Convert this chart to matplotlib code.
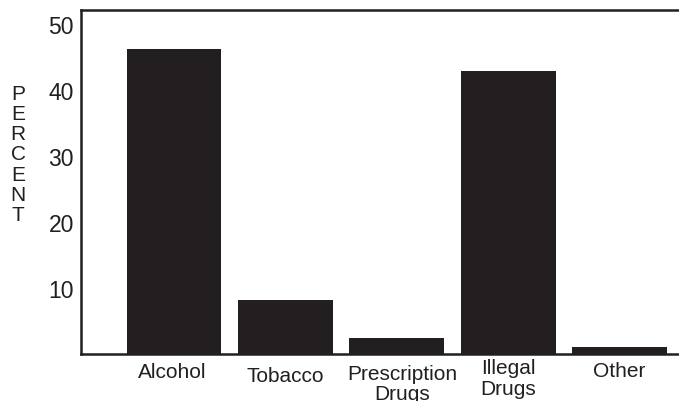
import matplotlib
matplotlib.use('Agg')
import matplotlib.pyplot as plt

# 字体：接近 Helvetica / Arial
plt.rcParams['font.family'] = ['Liberation Sans', 'DejaVu Sans']

categories = ['Alcohol', 'Tobacco', 'Prescription\nDrugs', 'Illegal\nDrugs', 'Other']
percent = [46.2, 8.2, 2.4, 42.9, 1.1]
yticks = [10, 20, 30, 40, 50]

fig = plt.figure(figsize=(6.79, 4.02), dpi=100)
ax = fig.add_axes([0.1193, 0.117, 0.8807, 0.8557])

x = list(range(len(categories)))
ax.bar(x, percent, width=0.85, color='#231f20', zorder=3)

ax.set_xlim(-0.835, 4.533)
ax.set_ylim(0, 52.1)

ax.set_yticks(yticks)
ax.set_yticklabels([str(v) for v in yticks], fontsize=16.5, color='#231f20')
ax.tick_params(axis='y', length=0, pad=5)

# x 标签：逐个放置，带一点点高低差
ax.set_xticks([])
label_dx = [-0.02, 0.0, 0.05, 0.0, 0.0]
label_dy = [-0.022, -0.036, -0.028, -0.013, -0.019]
for xi, lab, ddx, dy in zip(x, categories, label_dx, label_dy):
    ax.text(xi + ddx, dy, lab, transform=ax.get_xaxis_transform(), ha='center', va='top',
            fontsize=15, color='#231f20', linespacing=1.1)

# 竖排 PERCENT
fig.text(18 / 679, 1 - 155 / 402, '\n'.join('PERCENT'), ha='center', va='center',
         fontsize=15, color='#231f20', linespacing=1.07)

for side in ['left', 'top', 'bottom']:
    ax.spines[side].set_linewidth(1.8)
    ax.spines[side].set_color('#231f20')
ax.spines['right'].set_visible(False)

fig.savefig('out.png', dpi=100)
